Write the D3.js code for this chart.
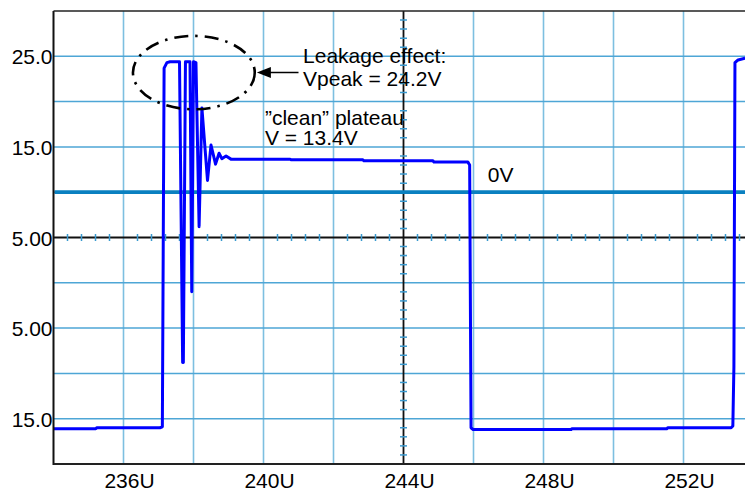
<!DOCTYPE html>
<html><head><meta charset="utf-8">
<script src="https://cdn.jsdelivr.net/npm/d3@7"></script>
<style>
body{margin:0;background:#fff}
svg{display:block}
text{font-family:"Liberation Sans",Arial,Helvetica,sans-serif;fill:#000}
</style>
</head><body>
<svg id="chart" width="745" height="493"></svg>
<script>
// ---- data ----
const timeTicks = [236, 240, 244, 248, 252];
const timeTickLabels = ["236U", "240U", "244U", "248U", "252U"];
const voltTicks = [25, 15, 5, -5, -15];
const voltTickLabels = ["25.0", "15.0", "5.00", "5.00", "15.0"];
const traceTime = [234.0, 235.21, 235.24, 237.04, 237.11, 237.13, 237.16, 237.24, 237.33, 237.6,
  237.69, 237.71, 237.77, 237.9, 237.95, 238.0, 238.07, 238.16, 238.24, 238.4,
  238.5, 238.63, 238.73, 238.81, 238.93, 239.07, 240.76, 240.79, 242.84, 242.87,
  244.84, 244.87, 245.84, 245.89, 245.93, 245.99, 248.79, 248.81, 251.53, 251.55,
  253.36, 253.41, 253.44, 253.47, 253.56, 253.76];
const traceVolt = [-16.1, -16.1, -16.0, -16.0, -15.9, -0.2, 23.7, 24.3, 24.4, 24.4,
  -8.8, -8.8, 24.4, 24.4, -1.0, 24.4, 24.3, 6.2, 19.3, 11.3,
  15.2, 13.1, 14.3, 13.7, 14.0, 13.65, 13.65, 13.57, 13.57, 13.47,
  13.47, 13.32, 13.32, 13.0, -16.0, -16.2, -16.2, -16.1, -16.1, -16.0,
  -16.0, -15.8, -9.3, 24.3, 24.6, 24.8];
const markerLevel = 10;          // the "0V" reference marker line
const markerLabel = "0V";
const leakageLines = ["Leakage effect:", "Vpeak = 24.2V"];
const plateauLines = ["\u201Dclean\u201D plateau", "V = 13.4V"];

// ---- layout ----
const svg = d3.select("#chart");
const W = 745;
const x = d3.scaleLinear().domain([234, 254]).range([53.5, 753.5]);
const y = d3.scaleLinear().domain([-20, 30]).range([464, 11]);
const pL = x(234), pR = W, pT = y(30), pB = y(-20);
const xCenter = 244, yCenter = 5;
const gridColor = "#4ea6d6";
const FS = 21;

svg.append("defs").append("clipPath").attr("id", "clip")
  .append("rect").attr("x", pL).attr("y", pT).attr("width", pR - pL).attr("height", pB - pT);

const plot = svg.append("g").attr("clip-path", "url(#clip)");

// grid
const vGrid = d3.range(236, 256, 2).filter(d => d !== xCenter);
const hGrid = d3.range(-15, 30, 5).filter(d => d !== yCenter);
plot.selectAll(".vg").data(vGrid).join("line")
  .attr("x1", d => x(d)).attr("x2", d => x(d)).attr("y1", pT).attr("y2", pB)
  .attr("stroke", "#7dbfe0").attr("stroke-width", 1.6);
plot.selectAll(".hg").data(hGrid).join("line")
  .attr("x1", pL).attr("x2", pR).attr("y1", d => y(d)).attr("y2", d => y(d))
  .attr("stroke", gridColor).attr("stroke-width", 1.5);

// center cross with minor ticks
plot.append("line").attr("x1", x(xCenter)).attr("x2", x(xCenter)).attr("y1", pT).attr("y2", pB)
  .attr("stroke", "#111").attr("stroke-width", 1.8);
plot.append("line").attr("x1", pL).attr("x2", pR).attr("y1", y(yCenter)).attr("y2", y(yCenter))
  .attr("stroke", "#111").attr("stroke-width", 1.8);
const xMinor = d3.range(234, 254.01, 0.4).filter(d => Math.abs((d - 234) / 2 - Math.round((d - 234) / 2)) > 0.01);
const yMinor = d3.range(-20, 30.01, 1).filter(d => Math.abs(d % 5) > 0.01);
plot.selectAll(".xm").data(xMinor).join("line")
  .attr("x1", d => x(d)).attr("x2", d => x(d)).attr("y1", y(yCenter) - 3.5).attr("y2", y(yCenter) + 3.5)
  .attr("stroke", "#3a9ad0").attr("stroke-width", 1.5);
plot.selectAll(".ym").data(yMinor).join("line")
  .attr("x1", x(xCenter) - 3.5).attr("x2", x(xCenter) + 3.5).attr("y1", d => y(d)).attr("y2", d => y(d))
  .attr("stroke", "#3a9ad0").attr("stroke-width", 1.5);

// 0V marker line
plot.append("line").attr("x1", pL + 1).attr("x2", pR).attr("y1", y(markerLevel)).attr("y2", y(markerLevel))
  .attr("stroke", "#0a80c0").attr("stroke-width", 3.8);

// trace
const trace = traceTime.map((t, i) => [t, traceVolt[i]]);
plot.append("path").datum(trace)
  .attr("d", d3.line().x(d => x(d[0])).y(d => y(d[1])))
  .attr("fill", "none").attr("stroke", "#0000ff").attr("stroke-width", 3)
  .attr("stroke-linejoin", "round");

// frame
svg.append("line").attr("x1", pL).attr("x2", pL).attr("y1", pT).attr("y2", pB + 1)
  .attr("stroke", "#111").attr("stroke-width", 2);
svg.append("line").attr("x1", pL).attr("x2", pR).attr("y1", pB).attr("y2", pB)
  .attr("stroke", "#222").attr("stroke-width", 2);
svg.append("line").attr("x1", pL).attr("x2", pR).attr("y1", pT).attr("y2", pT)
  .attr("stroke", "#222").attr("stroke-width", 1.6);

// tick labels
svg.selectAll(".xl").data(timeTicks).join("text")
  .attr("x", d => x(d) + 6).attr("y", pB + 24)
  .attr("text-anchor", "middle").attr("font-size", FS)
  .text((d, i) => timeTickLabels[i]);
svg.selectAll(".yl").data(voltTicks).join("text")
  .attr("x", pL - 1).attr("y", d => y(d) + 8)
  .attr("text-anchor", "end").attr("font-size", FS)
  .text((d, i) => voltTickLabels[i]);

// annotations
svg.append("ellipse")
  .attr("cx", x(238.01)).attr("cy", y(23.2))
  .attr("rx", x(238.01 + 1.74) - x(238.01)).attr("ry", y(23.2) - y(23.2 + 4.05))
  .attr("fill", "none").attr("stroke", "#000").attr("stroke-width", 2.6)
  .attr("stroke-dasharray", "14,7,2.5,7");
const ay = y(23.2);
svg.append("line").attr("x1", x(241.0)).attr("x2", x(239.8) + 10).attr("y1", ay).attr("y2", ay)
  .attr("stroke", "#000").attr("stroke-width", 1.5);
svg.append("path")
  .attr("d", `M${x(239.81)},${ay} L${x(239.81) + 14},${ay - 5.5} L${x(239.81) + 14},${ay + 5.5} Z`)
  .attr("fill", "#000");

svg.selectAll(".lk").data(leakageLines).join("text")
  .attr("x", x(241.13)).attr("y", (d, i) => y(24.28) + i * 23)
  .attr("font-size", FS).text(d => d);
svg.selectAll(".pl").data(plateauLines).join("text")
  .attr("x", x(240.04)).attr("y", (d, i) => y(17.44) + i * 20.5)
  .attr("font-size", FS).text(d => d);
svg.append("text").attr("x", x(246.41)).attr("y", y(11.15))
  .attr("font-size", FS).text(markerLabel);
</script>
</body></html>
